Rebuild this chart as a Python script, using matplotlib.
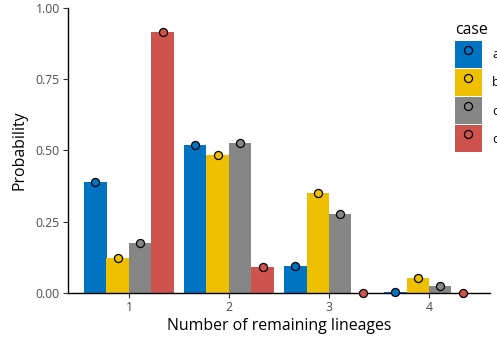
import numpy as np
import matplotlib.pyplot as plt
from matplotlib.patches import Patch
from matplotlib.lines import Line2D

plt.rcParams['font.family'] = ['Open Sans', 'DejaVu Sans']

lineages = [1, 2, 3, 4]
cases = ['a', 'b', 'c', 'd']
colors = ['#0073C2', '#EFC000', '#868686', '#CD534C']

prob_a = [0.389, 0.518, 0.096, 0.002]
prob_b = [0.123, 0.483, 0.350, 0.052]
prob_c = [0.176, 0.525, 0.276, 0.025]
prob_d = [0.914, 0.091, 0.000, 0.000]
probs = [prob_a, prob_b, prob_c, prob_d]

fig = plt.figure(figsize=(4.97, 3.42), dpi=100)
ax = fig.add_axes([68 / 497, 1 - 293 / 342, 422 / 497, 285.3 / 342])

x = np.array(lineages, dtype=float)
w = 0.225
for i, (case, col, p) in enumerate(zip(cases, colors, probs)):
    xs = x + (i - 1.5) * w
    ax.bar(xs, p, width=w, color=col, zorder=1)
    ax.plot(xs, p, 'o', ms=5.8, mfc=col, mec='black', mew=0.9, zorder=3,
            clip_on=False)

ax.set_xlim(0.39, 4.61)
ax.set_ylim(0, 1)
ax.set_xticks(lineages)
ax.set_yticks([0, 0.25, 0.5, 0.75, 1.0])
ax.set_yticklabels(['0.00', '0.25', '0.50', '0.75', '1.00'])
for s in ['top', 'right']:
    ax.spines[s].set_visible(False)
for s in ['left', 'bottom']:
    ax.spines[s].set_linewidth(1.0)
    ax.spines[s].set_zorder(2)
ax.tick_params(length=3.5, width=0.8, labelsize=8.8, labelcolor='#4D4D4D',
               color='#333333', pad=2.5)
ax.set_xlabel('Number of remaining lineages', fontsize=11.4, labelpad=3)
ax.set_ylabel('Probability', fontsize=11.4, labelpad=6)

# legend keys: filled square with the point drawn on top
handles = [(Patch(facecolor=c, edgecolor='none'),
            Line2D([], [], ls='none', marker='o', ms=5.8, mfc=c, mec='black', mew=0.9))
           for c in colors]
leg = fig.legend(handles, cases, loc='upper left',
                 bbox_to_anchor=(455 / 497, 1 - 41 / 342), frameon=False,
                 fontsize=9.3, borderpad=0, borderaxespad=0,
                 handlelength=2.08, handleheight=2.82, labelspacing=0.1,
                 handletextpad=0.8)
fig.text(455 / 497, 1 - 22 / 342, 'case', fontsize=11.4, ha='left', va='top')

fig.savefig('out.png', dpi=100)
